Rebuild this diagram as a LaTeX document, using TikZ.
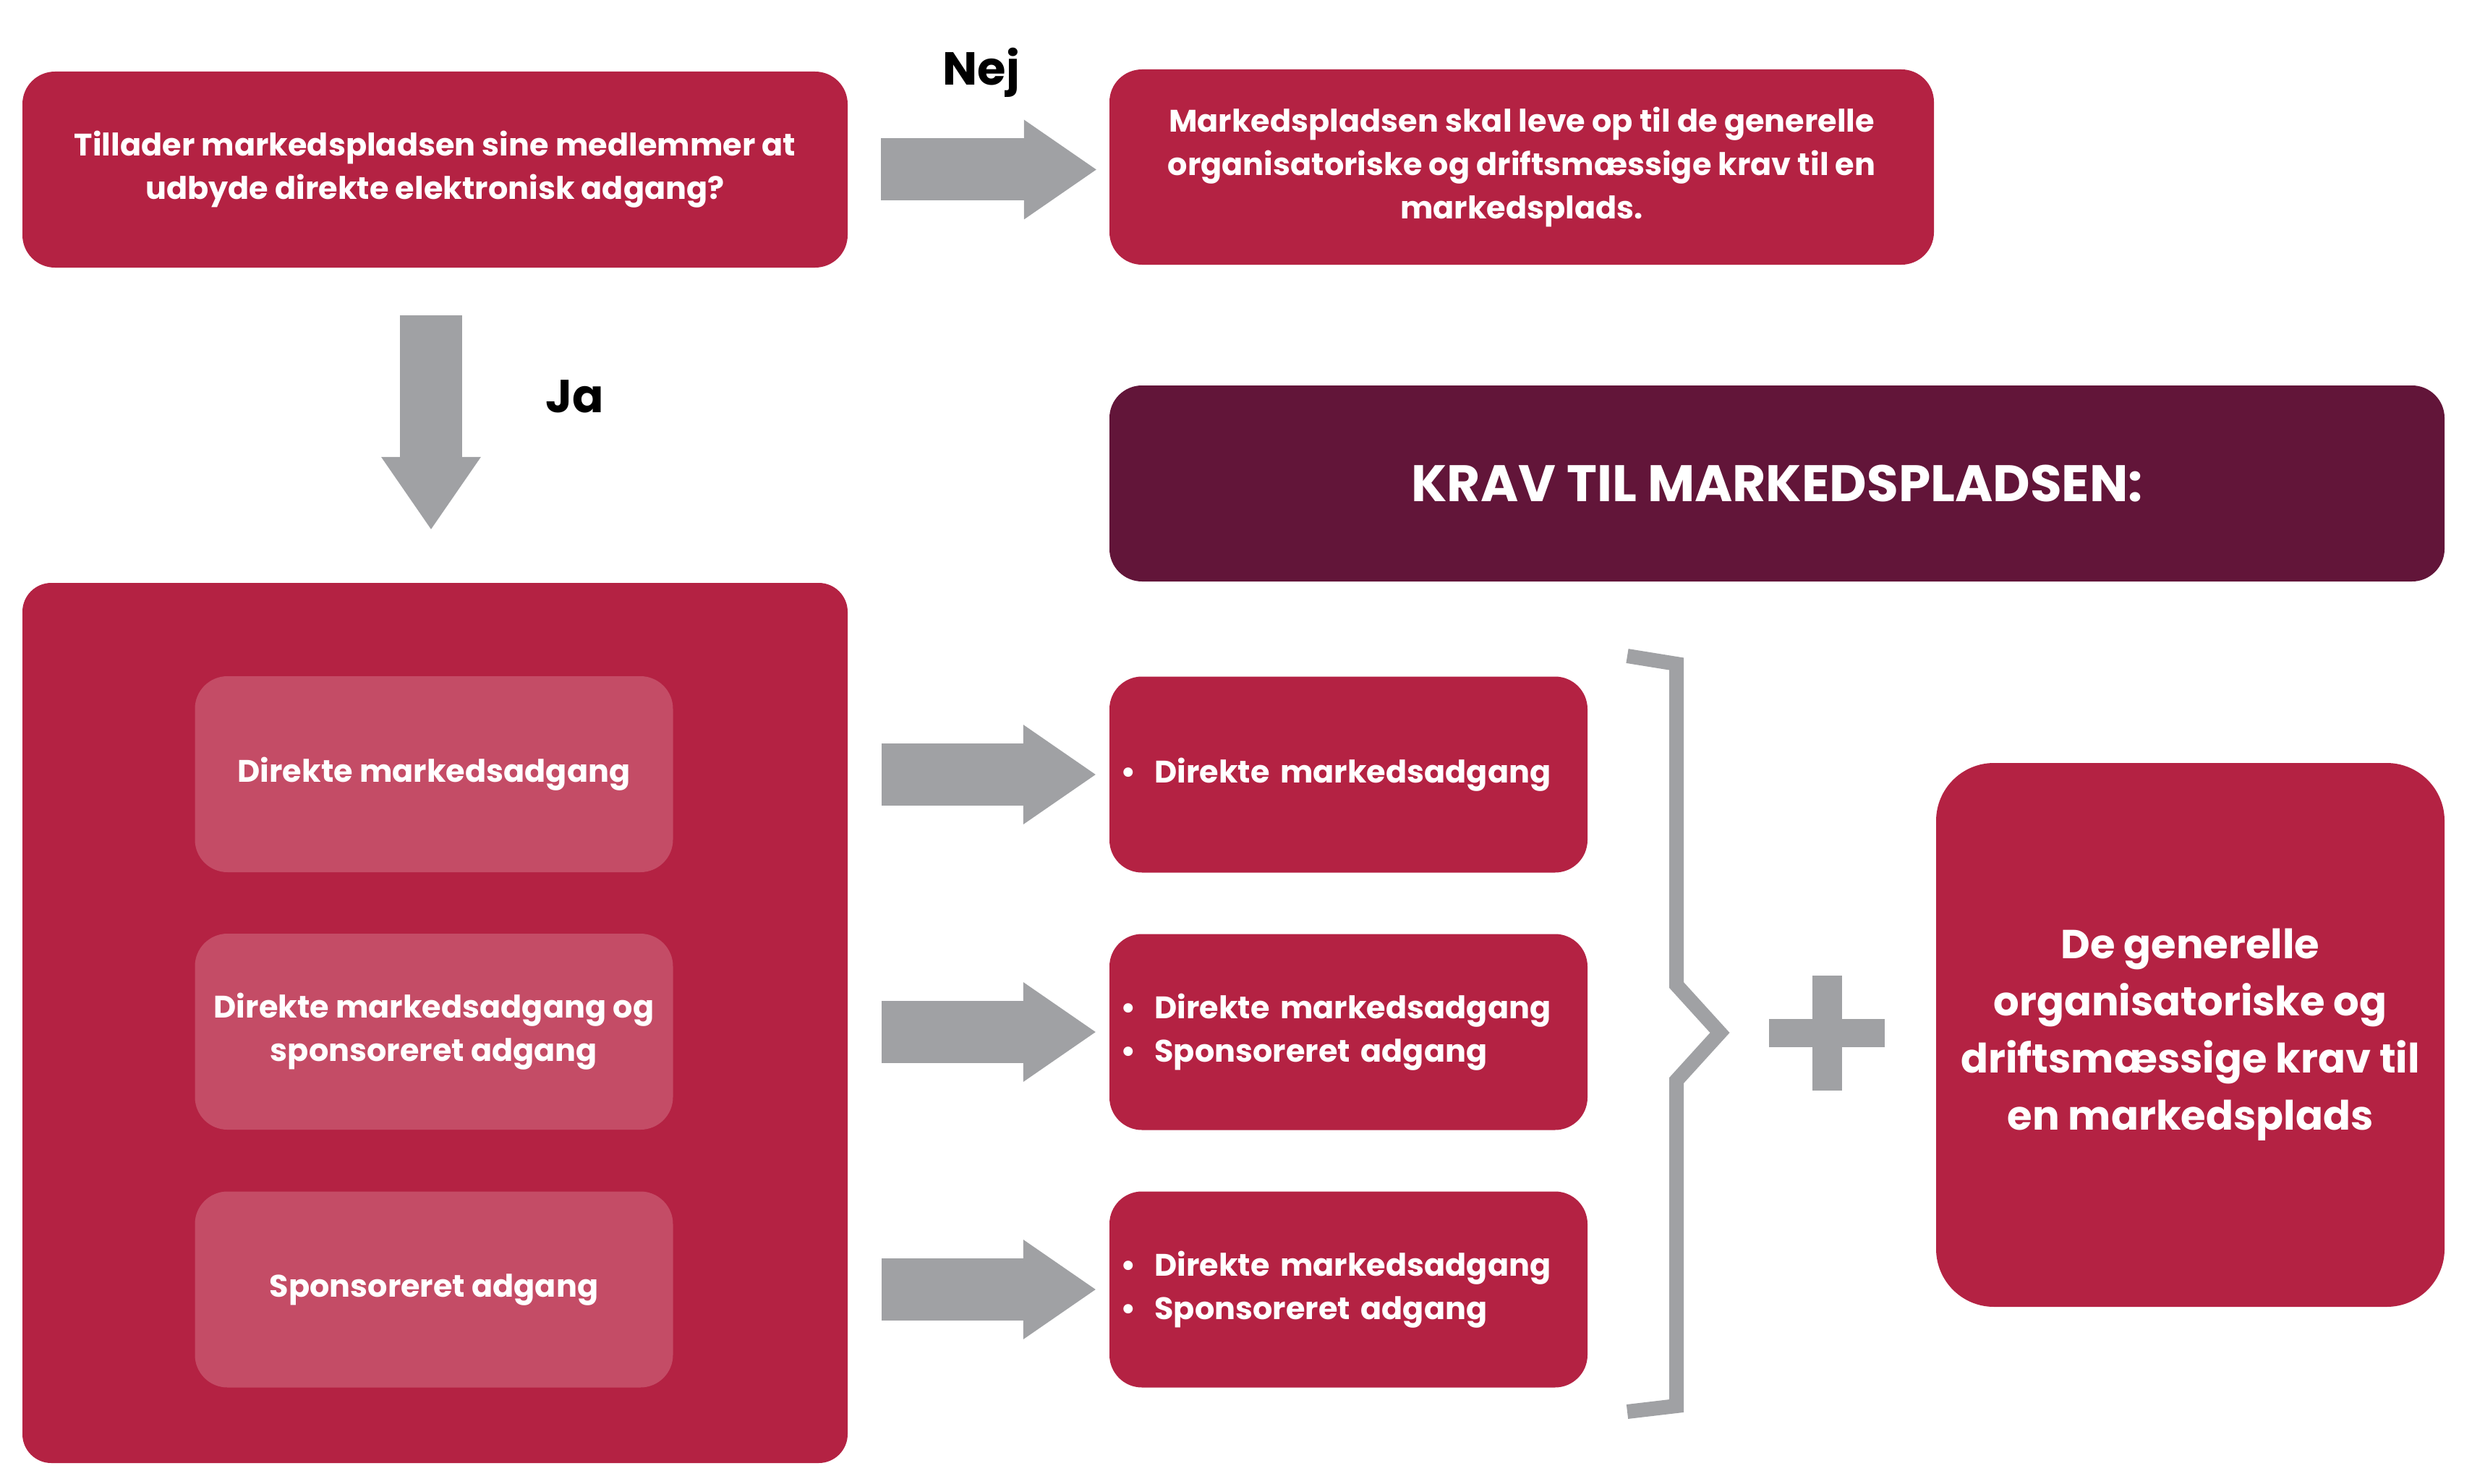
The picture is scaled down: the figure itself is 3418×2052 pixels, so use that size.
\documentclass[tikz,border=0pt]{standalone}
\usepackage{fontspec}
\setmainfont{Poppins}
\usetikzlibrary{arrows.meta,calc}

\definecolor{markred}{HTML}{B42243}
\definecolor{markpink}{HTML}{C44C66}
\definecolor{markdark}{HTML}{621539}
\definecolor{markgray}{HTML}{A0A1A4}

\newcommand{\kravpunkt}{\textbullet\hspace{26pt}}

\begin{document}
\begin{tikzpicture}[x=1pt,y=-1pt,
    box/.style={fill=markred, text=white, rounded corners=45pt, inner sep=0pt, align=center,
        font=\bfseries\fontsize{43}{60}\selectfont},
    innerbox/.style={box, fill=markpink, minimum width=661pt, minimum height=271pt},
    listbox/.style={box, minimum width=661pt, minimum height=271pt, text width=631pt, inner xsep=15pt, align=left},
    bigarrow/.style={draw=markgray, line width=86pt, -{Triangle[length=100pt,width=138pt,line width=0pt]}},
    klamme/.style={draw=markgray, line width=20pt, miter limit=20},
    svar/.style={font=\bfseries\fontsize{64}{70}\selectfont, anchor=base}
]
    \useasboundingbox (0,0) rectangle (3418,2052);
    % spoergsmaal og svar
    \node[box, minimum width=1141pt, minimum height=271pt] (spm) at (601.5,234.5)
        {Tillader markedspladsen sine medlemmer at\\udbyde direkte elektronisk adgang?};
    \node[box, minimum width=1140pt, minimum height=270pt] (nej) at (2104,231)
        {Markedspladsen skal leve op til de generelle\\organisatoriske og driftsmæssige krav til en\\markedsplads.};
    \node[box, fill=markdark, minimum width=1846pt, minimum height=271pt,
        font=\bfseries\fontsize{71}{80}\selectfont] (krav) at (2457,668.5) {KRAV TIL MARKEDSPLADSEN:};
    \node[box, rounded corners=40pt, minimum width=1141pt, minimum height=1217pt] (ja) at (601.5,1414.5) {};
    \node[box, rounded corners=80pt, minimum width=703pt, minimum height=752pt,
        font=\bfseries\fontsize{56}{79}\selectfont] (generelle) at (3028.5,1431)
        {De generelle\\organisatoriske og\\driftsmæssige krav til\\en markedsplads};
    \node[svar] (nejtekst) at (1357,118) {Nej};
    \node[svar] (jatekst) at (794.5,570) {Ja};
    % adgangsformer
    \foreach \n/\y/\t in {1/1070.5/{Direkte markedsadgang},
                          2/1426.5/{Direkte markedsadgang og\\sponsoreret adgang},
                          3/1783/{Sponsoreret adgang}} {
        \node[innerbox] (adg\n) at (600,\y) {\t};
    }
    \node[listbox] (krav1) at (1864.5,1071) {\kravpunkt Direkte markedsadgang};
    \node[listbox] (krav2) at (1864.5,1427) {\kravpunkt Direkte markedsadgang\\\kravpunkt Sponsoreret adgang};
    \node[listbox] (krav3) at (1864.5,1783) {\kravpunkt Direkte markedsadgang\\\kravpunkt Sponsoreret adgang};
    % pile
    \draw[bigarrow] ($(spm.east)+(46,0)$) -- ($(spm.east -| nej.west)+(-18,0)$);
    \draw[bigarrow] ($(spm.south)+(-5.5,66)$) -- ($(ja.north)+(-5.5,-74)$);
    \foreach \n in {1,2,3} {
        \draw[bigarrow] ($(ja.east |- krav\n.west)+(47,0)$) -- ($(krav\n.west)+(-19,0)$);
    }
    % klamme og plus
    \coordinate (spids) at (2378,1428);
    \draw[klamme] (2250,907) -- (2318,918) -- (2318,1362) -- (spids) -- (2318,1494) -- (2318,1944) -- (2250,1952);
    \coordinate (plus) at (2526,1428.5);
    \fill[markgray] ($(plus)+(-20.5,-79.5)$) rectangle ++(41,159);
    \fill[markgray] ($(plus)+(-80,-19.5)$) rectangle ++(160,39);
\end{tikzpicture}
\end{document}
